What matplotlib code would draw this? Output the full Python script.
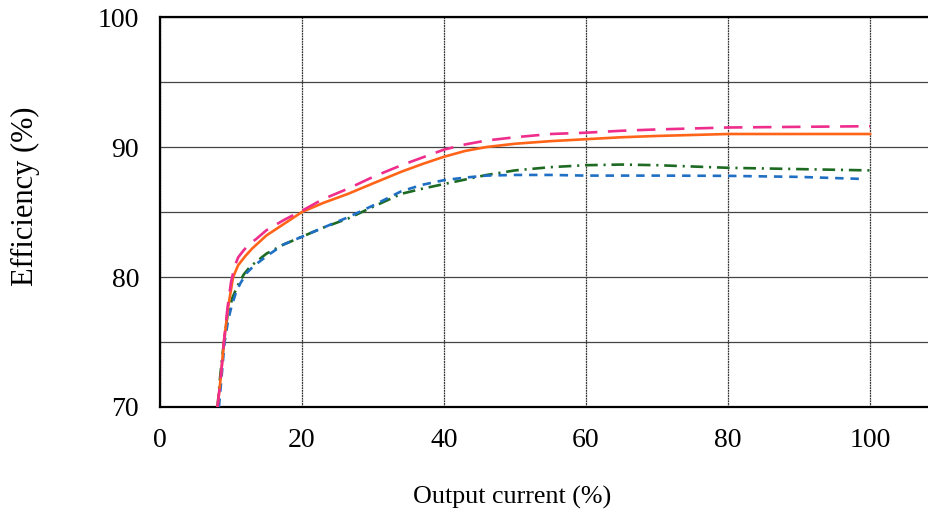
import numpy as np
import matplotlib.pyplot as plt

# output current (%) and efficiency (%)
x_pink = [8.1, 8.6, 9.0, 9.5, 10.0, 10.5, 11.0, 11.7, 12.5, 13.5, 15, 17.5, 20,
          23, 26.5, 30, 34, 37, 40, 43, 46, 50, 55, 60, 65, 70, 80, 90, 100]
eff_pink = [70, 72.5, 75, 77.6, 79.6, 80.8, 81.5, 82.0, 82.5, 82.9, 83.6, 84.4, 85.1,
            86.0, 86.8, 87.7, 88.6, 89.2, 89.8, 90.2, 90.5, 90.75, 91.0, 91.1, 91.25,
            91.35, 91.5, 91.55, 91.6]

x_orange = [8.1, 8.6, 9.0, 9.6, 10.3, 11.0, 12.0, 13.0, 15, 17.5, 20, 23, 26.5,
            30, 34, 37, 40, 43, 46, 50, 55, 60, 65, 70, 80, 90, 100]
eff_orange = [70, 72.5, 75, 77.7, 80.0, 80.9, 81.6, 82.2, 83.2, 84.1, 85.0, 85.7, 86.4,
              87.2, 88.1, 88.7, 89.25, 89.7, 90.0, 90.25, 90.45, 90.6, 90.75, 90.85,
              91.0, 91.0, 91.0]

x_green = [8.1, 8.5, 9.0, 9.5, 10.2, 10.9, 11.8, 12.7, 15, 17.4, 20, 23, 26.5,
           30, 34, 37, 40, 43, 46, 50, 55, 60, 65, 70, 80, 90, 100]
eff_green = [70, 72.5, 75, 77.0, 78.4, 79.3, 80.2, 80.8, 81.8, 82.5, 83.1, 83.8, 84.5,
             85.4, 86.4, 86.8, 87.15, 87.5, 87.85, 88.2, 88.45, 88.6, 88.65, 88.6,
             88.4, 88.3, 88.2]

x_blue = [8.3, 8.7, 9.1, 9.6, 10.1, 10.7, 11.3, 12.2, 13.1, 15, 17.4, 20, 23, 26.5,
          30, 34, 37, 40, 43, 46, 50, 55, 60, 70, 80, 90, 98.5]
eff_blue = [70, 72.5, 75, 76.7, 77.8, 78.8, 79.5, 80.3, 80.8, 81.6, 82.5, 83.1, 83.8,
            84.6, 85.5, 86.6, 87.1, 87.45, 87.65, 87.8, 87.85, 87.85, 87.8, 87.8,
            87.78, 87.7, 87.55]

plt.rcParams['font.family'] = ['Liberation Serif', 'DejaVu Serif']

fig = plt.figure(figsize=(9.29, 5.17), dpi=100)
ax = fig.add_axes([160/929, 110/517, 769/929, 390/517])

ax.plot(x_orange, eff_orange, color='#ff6418', lw=1.9, zorder=4,
        solid_joinstyle='round')
ax.plot(x_pink, eff_pink, color='#ee2d8c', lw=1.9, dashes=(7, 4), zorder=5)
ax.plot(x_green, eff_green, color='#1d6a22', lw=1.9,
        dashes=(4.8, 2.2, 0.8, 2.2), zorder=3)
ax.plot(x_blue, eff_blue, color='#1f6fc4', lw=1.9, dashes=(3.2, 2.6), zorder=3)

ax.set_xlim(0, 108.3)
ax.set_ylim(70, 100)
ax.set_xticks([0, 20, 40, 60, 80, 100])
ax.set_yticks([70, 80, 90, 100])
ax.set_yticks([75, 85, 95], minor=True)
ax.tick_params(which='both', length=0, labelsize=20, pad=15)

ax.grid(axis='x', color='#333333', lw=0.9, ls=(0, (1.5, 0.6)))
ax.grid(axis='y', which='both', color='#444444', lw=0.9)
ax.set_axisbelow(True)

for side in ['left', 'bottom', 'top']:
    ax.spines[side].set_linewidth(1.6)
    ax.spines[side].set_color('black')
ax.spines['right'].set_visible(False)

fig.text(512/929, 1 - 497/517, 'Output current (%)', fontsize=18.7,
         ha='center', va='center')
fig.text(25/929, 1 - 196/517, 'Efficiency (%)', fontsize=22, rotation=90,
         ha='center', va='center')

fig.savefig('out.png', dpi=100)
